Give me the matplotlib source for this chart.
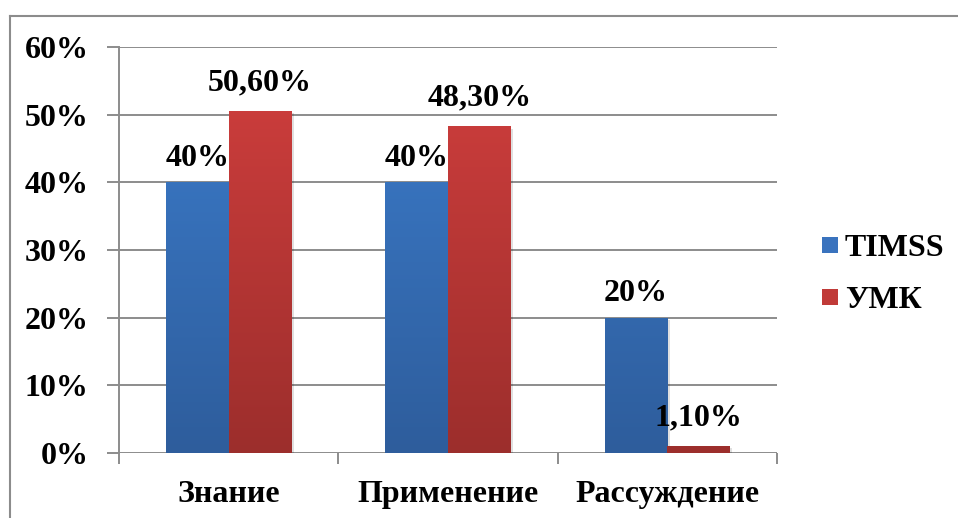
import matplotlib
matplotlib.use("Agg")
import matplotlib.pyplot as plt
import numpy as np
from matplotlib.colors import LinearSegmentedColormap
from matplotlib.lines import Line2D
from matplotlib.patches import Rectangle

categories = ["Знание", "Применение", "Рассуждение"]
timss = [40, 40, 20]
umk = [50.6, 48.3, 1.1]
timss_labels = ["40%", "40%", "20%"]
umk_labels = ["50,60%", "48,30%", "1,10%"]
yticks = [0, 10, 20, 30, 40, 50, 60]
series_names = ["TIMSS", "УМК"]

plt.rcParams['font.family'] = ['Liberation Serif', 'DejaVu Serif']
plt.rcParams['font.weight'] = 'bold'
FS = 23

W, H = 958, 518
fig = plt.figure(figsize=(W / 100, H / 100), dpi=100)
fig.patch.set_facecolor('white')

# outer frame (top and left visible)
fig.add_artist(Line2D([10 / W, 10 / W], [0, 1 - 16 / H], color='#8c8c8c', lw=1.5))
fig.add_artist(Line2D([10 / W, 1], [1 - 16 / H, 1 - 16 / H], color='#8c8c8c', lw=1.5))

left, right, top, bottom = 119, 777, 47, 453
ax = fig.add_axes([left / W, 1 - bottom / H, (right - left) / W, (bottom - top) / H])
ax.set_xlim(0, 3)
ax.set_ylim(0, 60)

for y in yticks:
    ax.axhline(y, color='#8c8c8c', lw=1.4, zorder=0)

x = np.arange(len(categories)) + 0.5
bw = 0.285
blue_cmap = LinearSegmentedColormap.from_list('b', ['#2E5D9C', '#3C7DCD'])
red_cmap = LinearSegmentedColormap.from_list('r', ['#9C2E2C', '#D23F3E'])
grad = np.linspace(0, 1, 256).reshape(-1, 1)

def gbar(xc, h, cmap, color):
    ax.bar(xc + 0.012, h, bw, bottom=-0.35, color='#000000', alpha=0.12, zorder=1, linewidth=0)
    b = ax.bar(xc, h, bw, color=color, zorder=2, linewidth=0)[0]
    im = ax.imshow(grad, cmap=cmap, aspect='auto', origin='lower',
                   extent=[xc - bw / 2, xc + bw / 2, 0, 60], zorder=2.5)
    im.set_clip_path(b)

for i in range(len(categories)):
    gbar(x[i] - bw / 2, timss[i], blue_cmap, '#3A73BE')
    gbar(x[i] + bw / 2, umk[i], red_cmap, '#C03A38')
    ax.text(x[i] - bw / 2, timss[i] + 1.4, timss_labels[i], ha='center', va='bottom',
            fontsize=FS, fontweight='bold', zorder=5)
    ax.text(x[i] + bw / 2, umk[i] + 2.0, umk_labels[i], ha='center', va='bottom',
            fontsize=FS, fontweight='bold', zorder=5)

ax.set_xlim(0, 3)
ax.set_ylim(0, 60)

for s in ['top', 'right', 'bottom']:
    ax.spines[s].set_visible(False)
ax.spines['left'].set_color('#8c8c8c')
ax.spines['left'].set_linewidth(1.4)

ax.set_yticks(yticks)
ax.set_yticklabels([f"{v}%" for v in yticks], fontsize=FS, fontweight='bold')
ax.tick_params(axis='y', length=9, width=1.4, color='#8c8c8c', pad=13)

ax.set_xticks([0, 1, 2, 3])
ax.set_xticklabels([])
ax.tick_params(axis='x', length=8, width=1.4, color='#8c8c8c')
for i, c in enumerate(categories):
    ax.text(x[i], -4.0, c, ha='center', va='top', fontsize=FS, fontweight='bold')

# legend
leg_colors = ['#3A73BE', '#C03A38']
leg_y = [245, 297]
for name, col, yy in zip(series_names, leg_colors, leg_y):
    fig.add_artist(Rectangle((822 / W, 1 - (yy + 8) / H), 16 / W, 16 / H,
                             facecolor=col, edgecolor='none', transform=fig.transFigure))
    fig.text(845 / W, 1 - yy / H, name, ha='left', va='center_baseline',
             fontsize=FS, fontweight='bold', family=['Liberation Serif', 'DejaVu Serif'])

fig.savefig('out.png', dpi=100)
